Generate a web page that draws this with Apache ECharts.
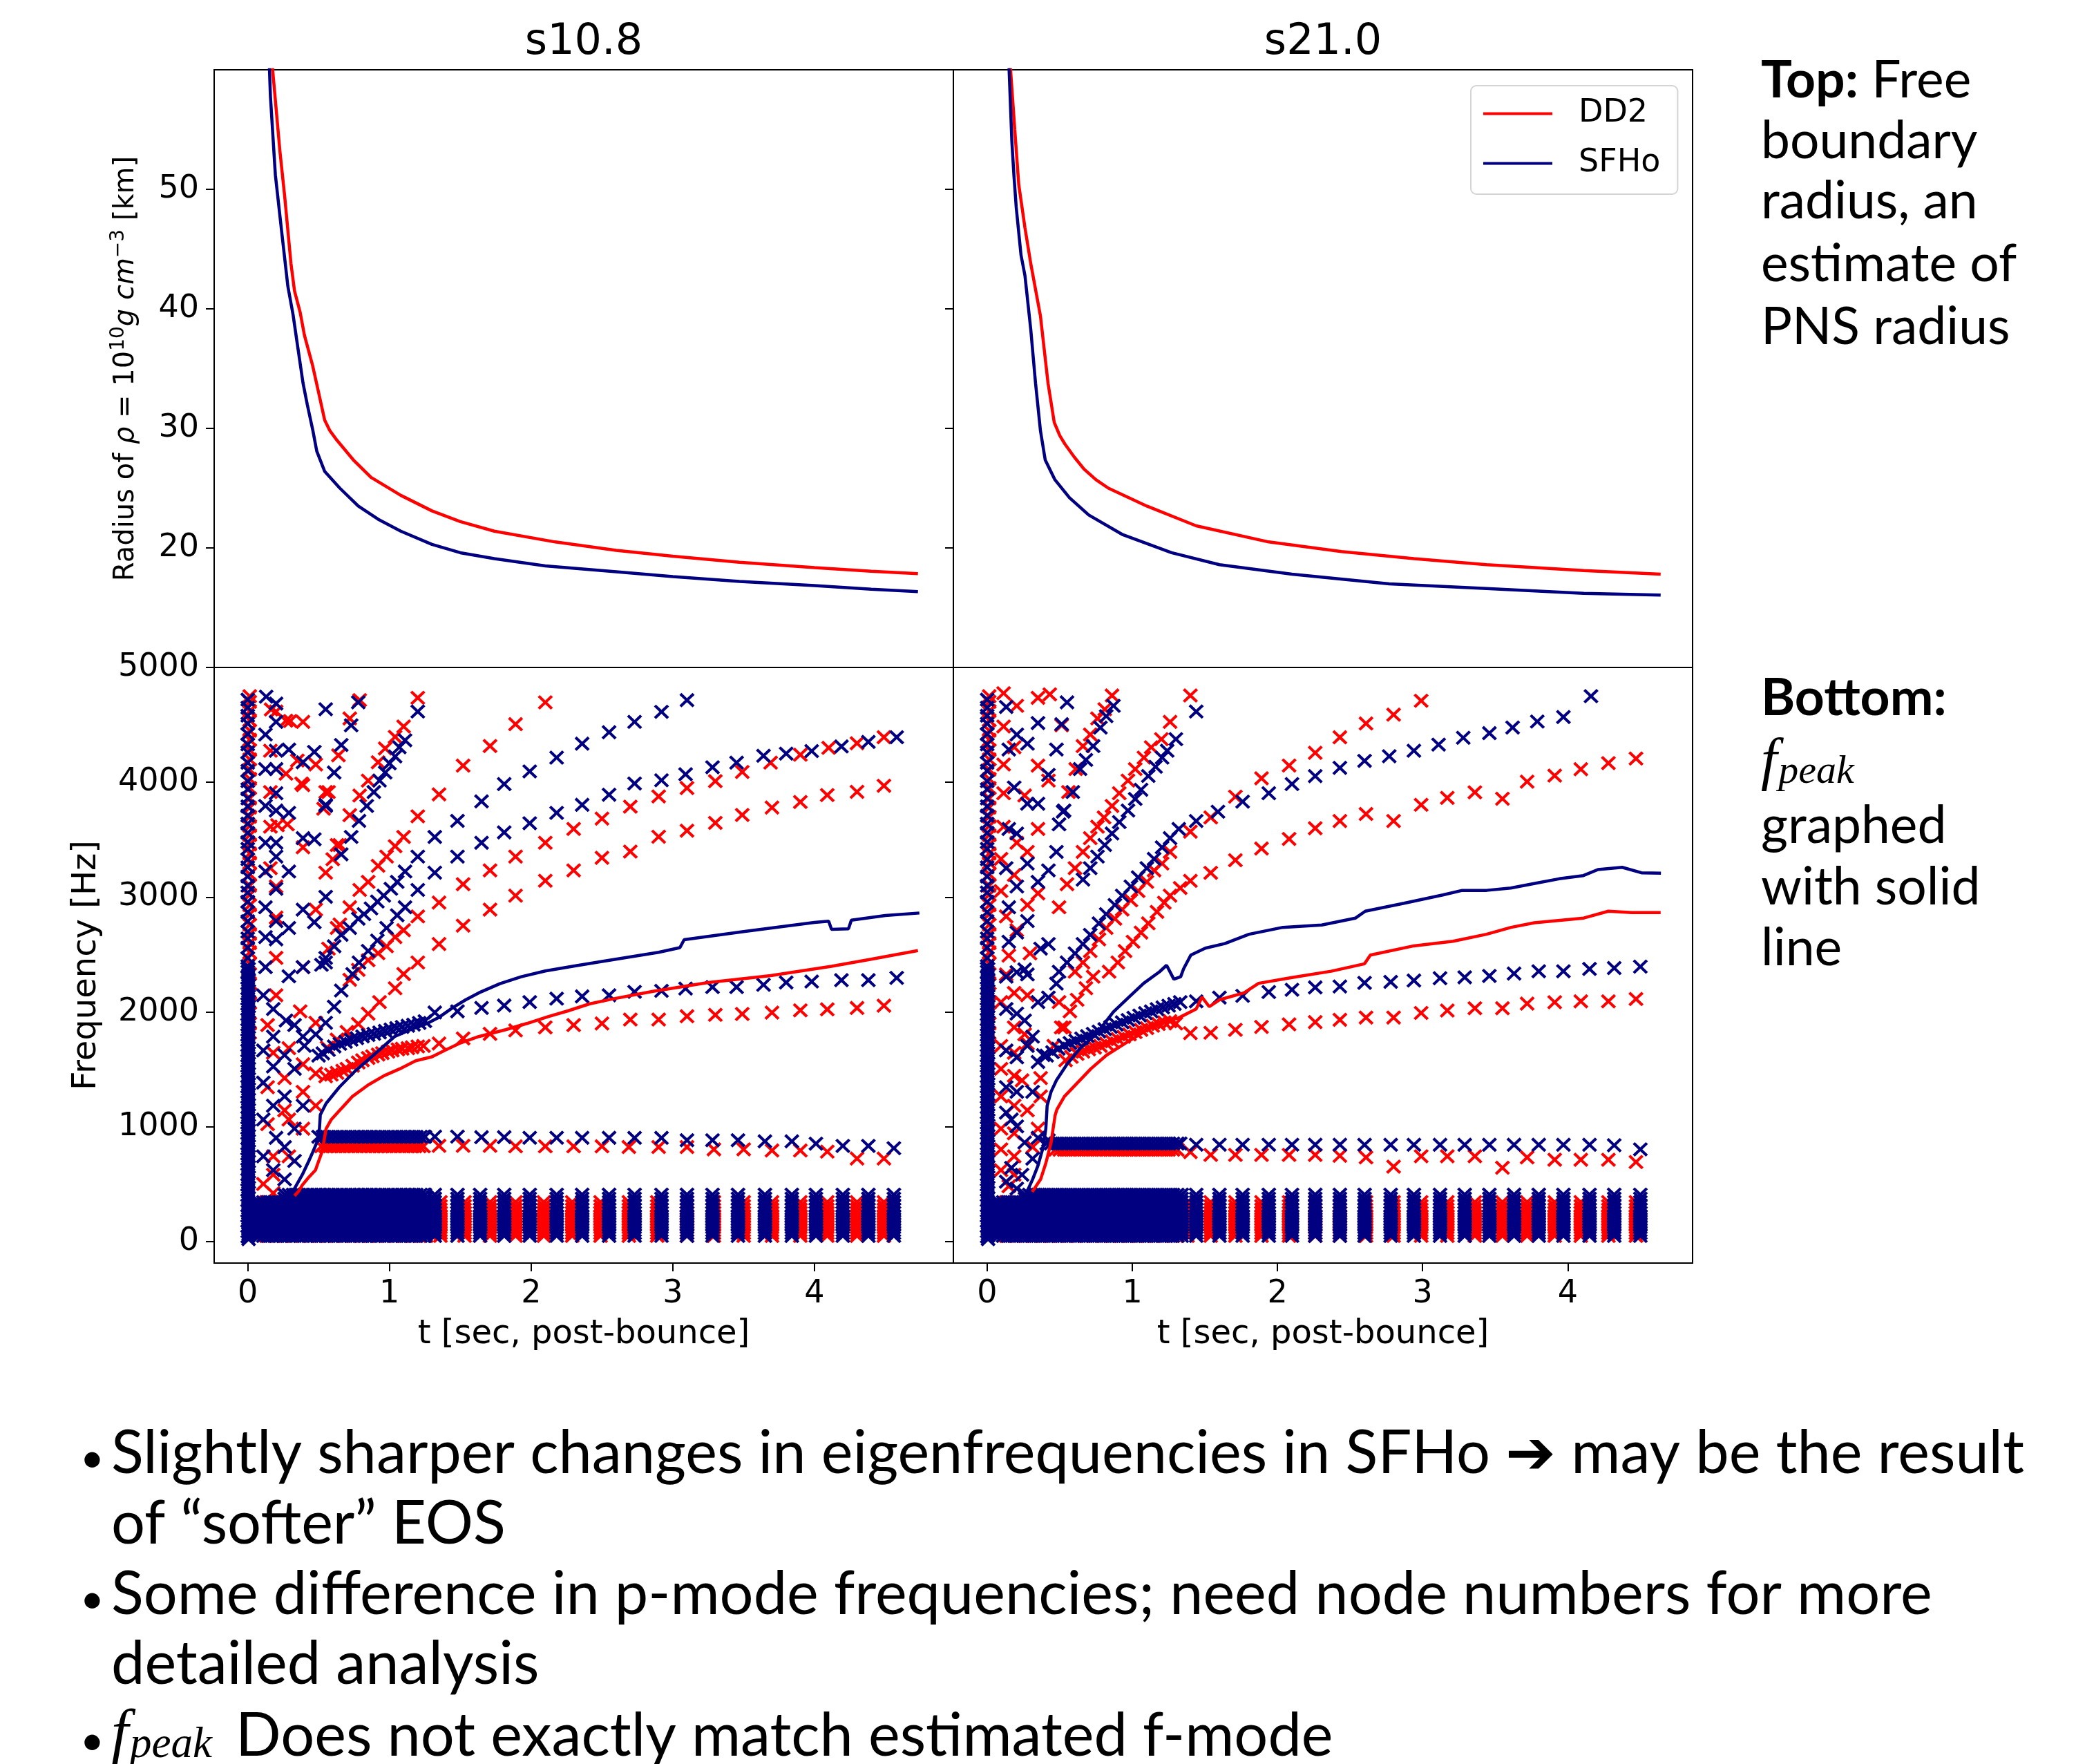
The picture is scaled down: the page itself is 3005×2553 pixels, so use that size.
<!DOCTYPE html>
<html><head><meta charset="utf-8">
<script src="https://cdn.jsdelivr.net/npm/echarts@6/dist/echarts.min.js"></script>
<style>html,body{margin:0;padding:0;background:#fff}#c{width:3005px;height:2553px}</style>
</head><body><div id="c"></div>
<script>
// ================= DATA =================
// Top panels: radius of rho = 1e10 g/cm^3 [t (s post-bounce), R (km)]
const radiusDD2_s108 = [[0.16,66],[0.175,60.1],[0.227,53.2],[0.26,49.5],[0.305,43.8],[0.33,41.5],[0.37,39.7],[0.40,37.8],[0.457,35.3],[0.50,33.0],[0.543,30.7],[0.58,29.8],[0.63,29.0],[0.75,27.3],[0.87,25.9],[1.08,24.4],[1.30,23.1],[1.50,22.2],[1.74,21.4],[2.17,20.5],[2.60,19.8],[3.00,19.3],[3.47,18.8],[4.00,18.35],[4.40,18.05],[4.73,17.85]];
const radiusSFHo_s108 = [[0.145,66],[0.153,60.1],[0.16,57.8],[0.195,51.2],[0.24,46.4],[0.283,41.9],[0.32,39.5],[0.348,37.2],[0.39,33.8],[0.42,32.0],[0.46,29.8],[0.487,28.1],[0.543,26.4],[0.65,25.0],[0.78,23.5],[0.92,22.4],[1.08,21.4],[1.30,20.3],[1.50,19.6],[1.74,19.1],[2.10,18.5],[2.60,18.0],[3.00,17.6],[3.47,17.2],[4.00,16.85],[4.40,16.55],[4.73,16.35]];
const radiusDD2_s210 = [[0.15,66],[0.161,60],[0.19,55],[0.2175,50.4],[0.26,46.8],[0.30,43.8],[0.367,39.4],[0.419,33.8],[0.462,30.5],[0.50,29.4],[0.535,28.7],[0.60,27.6],[0.667,26.6],[0.75,25.7],[0.835,25.0],[1.10,23.5],[1.44,21.85],[1.94,20.5],[2.44,19.7],[2.94,19.1],[3.44,18.6],[4.11,18.1],[4.64,17.8]];
const radiusSFHo_s210 = [[0.145,66],[0.151,60],[0.17,54],[0.184,51.2],[0.20,48.5],[0.233,44.5],[0.26,42.8],[0.30,38.3],[0.333,33.8],[0.367,29.8],[0.40,27.35],[0.467,25.7],[0.567,24.2],[0.70,22.75],[0.935,21.1],[1.27,19.6],[1.60,18.6],[2.10,17.8],[2.77,17.0],[3.44,16.6],[4.11,16.2],[4.64,16.05]];

// Bottom panels: f_peak solid lines [t, Hz]
const fpeakDD2_s108 = [[0.33,400],[0.36,440],[0.385,493],[0.43,560],[0.478,623],[0.50,700],[0.525,784],[0.553,984],[0.59,1064],[0.664,1164],[0.739,1265],[0.85,1365],[0.962,1445],[1.073,1505],[1.185,1575],[1.30,1610],[1.39,1665],[1.50,1730],[1.63,1786],[1.82,1846],[1.97,1900],[2.12,1960],[2.26,2010],[2.41,2070],[2.56,2110],[2.86,2180],[3.25,2257],[3.69,2317],[4.12,2398],[4.40,2460],[4.73,2535]];
const fpeakSFHo_s108 = [[0.25,380],[0.29,430],[0.33,463],[0.385,583],[0.43,700],[0.46,783],[0.488,864],[0.506,984],[0.512,1104],[0.553,1204],[0.646,1345],[0.757,1485],[0.888,1625],[1.036,1786],[1.148,1846],[1.259,1896],[1.353,1956],[1.445,2036],[1.538,2106],[1.631,2167],[1.78,2247],[1.93,2307],[2.10,2357],[2.30,2400],[2.50,2440],[2.90,2520],[3.05,2560],[3.08,2630],[3.50,2700],[4.00,2780],[4.10,2790],[4.12,2720],[4.24,2725],[4.26,2800],[4.50,2840],[4.74,2862]];
const fpeakDD2_s210 = [[0.31,433],[0.368,543],[0.404,683],[0.44,864],[0.468,1100],[0.48,1150],[0.532,1265],[0.623,1385],[0.714,1505],[0.823,1625],[0.95,1726],[1.078,1826],[1.187,1906],[1.315,1946],[1.44,2026],[1.48,2130],[1.53,2046],[1.60,2106],[1.77,2167],[1.87,2250],[2.10,2300],[2.37,2355],[2.60,2420],[2.64,2496],[2.94,2576],[3.21,2616],[3.44,2677],[3.61,2737],[3.77,2777],[4.11,2818],[4.28,2878],[4.44,2866],[4.64,2866]];
const fpeakSFHo_s210 = [[0.277,443],[0.313,543],[0.35,663],[0.386,824],[0.404,984],[0.413,1184],[0.44,1305],[0.477,1405],[0.55,1545],[0.641,1685],[0.75,1806],[0.869,2000],[0.969,2120],[1.078,2250],[1.187,2350],[1.236,2407],[1.286,2286],[1.333,2307],[1.353,2375],[1.403,2496],[1.503,2556],[1.637,2596],[1.804,2677],[2.037,2737],[2.305,2757],[2.538,2818],[2.605,2878],[2.872,2947],[3.139,3019],[3.273,3059],[3.44,3059],[3.607,3079],[3.774,3120],[3.941,3160],[4.108,3188],[4.208,3240],[4.375,3260],[4.508,3212],[4.642,3208]];

// Eigenfrequency tracks & scattered crosses [t, Hz]
const modesDD2_s108 = [
 [2.10,4696],[1.89,4506],[1.71,4316],[1.52,4145],[1.35,3895],[1.20,3704],[1.10,3524],[1.04,3444],[0.98,3353],[0.92,3273],[0.85,3133],[0.79,3063],[0.72,2912],[0.65,2762],[0.57,2552],
 [4.49,4393],[4.30,4340],[4.10,4300],[3.90,4240],[3.69,4171],[3.49,4090],[3.30,4010],[3.10,3950],[2.90,3877],[2.70,3788],[2.50,3684],[2.30,3594],[2.10,3474],[1.89,3353],[1.71,3233],[1.52,3113],[1.35,2953],[1.20,2832],[1.10,2712],[1.04,2652],[0.98,2572],[0.92,2512],[0.85,2451],[0.78,2367],[0.72,2280],
 [4.49,3970],[4.30,3917],[4.09,3889],[3.90,3829],[3.70,3780],[3.49,3716],[3.30,3647],[3.10,3579],[2.90,3526],[2.70,3397],[2.50,3343],[2.30,3233],[2.10,3143],[1.89,3013],[1.71,2892],[1.52,2752],[1.35,2592],[1.20,2431],[1.10,2331],[1.04,2207],[0.93,2086],[0.85,1986],[0.78,1896],[0.70,1826],[0.63,1760],[0.56,1690],
 [4.49,2055],[4.30,2035],[4.09,2023],[3.90,2015],[3.70,1995],[3.49,1983],[3.30,1975],[3.10,1963],[2.90,1934],[2.70,1934],[2.50,1900],[2.30,1886],[2.10,1866],[1.89,1840],[1.71,1810],[1.52,1770],[1.35,1726],[1.24,1705],[1.20,1700],[1.16,1692],[1.13,1685],[1.09,1680],[1.06,1675],[1.02,1665],[0.99,1655],[0.95,1642],[0.92,1630],[0.88,1615],[0.85,1600],[0.81,1580],[0.78,1560],[0.74,1532],[0.70,1505],[0.67,1488],[0.63,1470],[0.59,1455],[0.55,1440],
 [1.35,835],[1.52,835],[1.71,835],[1.89,830],[2.10,830],[2.30,830],[2.50,830],[2.69,824],[2.90,824],[3.10,824],[3.29,804],[3.50,804],[3.70,794],[3.90,794],[4.09,784],[4.30,724],[4.49,724],
 [1.20,4736],[1.10,4486],[1.04,4396],[0.97,4295],[0.92,4175],[0.85,4015],[0.79,3885],[0.72,3714],[0.65,3454],[0.60,3330],
 [0.79,4716],[0.72,4556],[0.64,4235],[0.57,3915],[0.535,3770],
 [0.20,4616],[0.27,4536],[0.39,4526],[0.16,4275],[0.48,4155],[0.27,4075],[0.39,3975],[0.55,3915],[0.16,3915],[0.28,3634],[0.16,3614],[0.39,3434],[0.63,3454],[0.55,3213],[0.16,3253],[0.20,3093],[0.48,2892],[0.20,2822],[0.63,2732],[0.20,2471],[0.39,2391],[0.165,4634],[0.30,4534],[0.35,4190],[0.38,3990],[0.21,3627],
 [0.20,2146],[0.37,2006],[0.48,1906],[0.14,1886],[0.18,1645],[0.29,1685],[0.48,1465],[0.39,1545],[0.26,1425],[0.14,1345],[0.39,1305],[0.48,1184],[0.26,1144],[0.14,1024],[0.29,1064],[0.39,984],[0.18,743],[0.29,743],[0.18,583],[0.18,423],[0.11,503]
];
const modesSFHo_s108 = [
 [3.10,4715],[2.92,4614],[2.73,4526],[2.55,4436],[2.36,4336],[2.18,4215],[1.99,4095],[1.81,3985],[1.65,3834],[1.48,3664],[1.32,3524],[1.20,3353],[1.11,3223],[1.055,3133],[1.01,3073],[0.96,3013],[0.915,2962],[0.87,2902],[0.82,2852],[0.78,2812],[0.72,2732],[0.66,2672],[0.61,2572],[0.55,2471],[0.52,2411],
 [4.58,4393],[4.38,4352],[4.19,4312],[3.98,4272],[3.80,4250],[3.64,4231],[3.45,4171],[3.28,4131],[3.09,4070],[2.92,4018],[2.73,3990],[2.55,3892],[2.36,3804],[2.18,3734],[1.99,3644],[1.81,3564],[1.65,3474],[1.48,3353],[1.32,3213],[1.20,3063],[1.11,2912],[1.055,2842],[0.98,2732],[0.915,2622],[0.85,2532],[0.785,2431],[0.74,2331],[0.66,2187],[0.61,2046],[0.55,1906],[0.48,1806],[0.40,1705],
 [4.58,2297],[4.38,2277],[4.19,2277],[3.98,2265],[3.80,2257],[3.64,2237],[3.45,2217],[3.28,2217],[3.09,2204],[2.92,2184],[2.73,2176],[2.55,2146],[2.36,2136],[2.18,2116],[1.99,2086],[1.81,2056],[1.65,2036],[1.48,2006],[1.32,1996],[1.25,1920],[1.21,1905],[1.17,1890],[1.13,1880],[1.09,1870],[1.05,1860],[1.01,1848],[0.97,1835],[0.93,1822],[0.89,1810],[0.85,1800],[0.81,1788],[0.77,1772],[0.73,1758],[0.69,1740],[0.65,1722],[0.61,1700],[0.57,1670],[0.53,1640],[0.50,1620],
 [1.32,915],[1.48,915],[1.65,910],[1.81,910],[1.99,905],[2.18,905],[2.36,905],[2.55,905],[2.73,904],[2.92,904],[3.10,884],[3.28,884],[3.46,884],[3.65,874],[3.84,874],[4.01,854],[4.20,834],[4.38,834],[4.56,814],
 [1.20,4616],[1.11,4366],[1.07,4305],[1.04,4225],[1.00,4165],[0.97,4085],[0.93,4015],[0.89,3915],[0.84,3794],[0.785,3664],[0.73,3524],[0.66,3373],
 [0.78,4696],[0.73,4496],[0.66,4325],[0.61,4085],[0.55,3794],
 [0.13,4746],[0.20,4686],[0.125,4416],[0.20,4526],[0.20,4275],[0.29,4285],[0.39,4175],[0.47,4265],[0.55,4636],[0.55,3804],[0.20,4115],[0.125,4115],[0.20,3905],[0.125,3794],[0.20,3754],[0.29,3734],[0.20,3474],[0.125,3474],[0.39,3514],[0.47,3504],[0.20,3353],[0.29,3223],[0.125,3223],[0.20,3073],[0.55,3003],[0.125,2912],[0.39,2892],[0.47,2782],[0.20,2792],[0.29,2732],[0.125,2652],[0.20,2632],[0.55,2431],[0.39,2391],[0.125,2391],[0.29,2311],
 [0.11,2146],[0.18,2026],[0.27,1926],[0.18,1786],[0.11,1665],[0.33,1886],[0.39,1786],[0.26,1625],[0.18,1525],[0.33,1505],[0.11,1385],[0.26,1265],[0.39,1184],[0.18,1184],[0.11,1064],[0.33,984],[0.20,904],[0.26,824],[0.11,743],[0.33,703],[0.18,623],[0.26,543]
];
const modesDD2_s210 = [
 [2.99,4710],[2.80,4589],[2.61,4512],[2.43,4392],[2.26,4257],[2.08,4146],[1.89,4035],[1.71,3875],[1.54,3694],[1.40,3570],[1.26,3394],[1.205,3293],[1.15,3233],[1.10,3133],[1.04,3053],[0.99,2972],[0.93,2892],[0.88,2812],[0.82,2732],[0.77,2632],[0.71,2531],[0.66,2431],[0.605,2351],
 [4.47,4207],[4.28,4167],[4.09,4114],[3.91,4058],[3.72,4006],[3.55,3857],[3.36,3913],[3.17,3865],[2.99,3804],[2.80,3663],[2.61,3724],[2.43,3663],[2.26,3600],[2.08,3507],[1.89,3423],[1.71,3322],[1.54,3212],[1.40,3142],[1.33,3080],[1.26,3013],[1.22,2952],[1.17,2872],[1.11,2772],[1.06,2692],[1.005,2612],[0.95,2531],[0.90,2431],[0.84,2351],[0.73,2307],[0.68,2207],[0.62,2106],[0.57,2006],[0.51,1866],
 [4.47,2113],[4.28,2093],[4.09,2093],[3.91,2085],[3.72,2073],[3.55,2033],[3.36,2033],[3.17,2013],[2.99,1992],[2.80,1952],[2.61,1952],[2.43,1932],[2.26,1912],[2.08,1892],[1.89,1870],[1.71,1845],[1.54,1819],[1.40,1816],[1.30,1900],[1.26,1920],[1.22,1910],[1.18,1895],[1.14,1880],[1.10,1860],[1.06,1845],[1.02,1825],[0.98,1805],[0.94,1785],[0.90,1765],[0.86,1745],[0.82,1725],[0.78,1705],[0.74,1690],[0.70,1675],[0.66,1655],[0.62,1635],[0.58,1610],[0.54,1580],
 [1.40,780],[1.54,756],[1.71,756],[1.89,756],[2.08,756],[2.26,756],[2.43,748],[2.61,734],[2.80,654],[2.99,744],[3.17,744],[3.36,744],[3.55,644],[3.72,734],[3.91,714],[4.09,714],[4.28,714],[4.47,694],
 [1.40,4756],[1.26,4526],[1.20,4376],[1.13,4305],[1.08,4215],[1.02,4115],[0.97,4015],[0.91,3905],[0.86,3794],[0.805,3694],[0.76,3614],[0.71,3514],[0.66,3394],[0.605,3253],[0.55,3113],[0.495,2912],
 [0.86,4756],[0.81,4636],[0.76,4556],[0.71,4416],[0.66,4315],[0.61,4115],[0.56,3915],
 [0.113,4776],[0.35,4736],[0.431,4766],[0.204,4666],[0.113,4486],[0.513,4496],[0.186,4305],[0.113,4155],[0.35,4145],[0.422,4015],[0.113,3905],[0.258,3885],[0.35,3594],[0.113,3614],[0.204,3474],[0.277,3394],[0.095,3333],[0.186,3193],[0.095,3053],[0.35,3033],[0.277,2932],[0.131,2832],[0.204,2712],[0.295,2511],[0.149,2491],
 [0.131,2327],[0.186,2166],[0.277,2146],[0.095,2086],[0.186,1866],[0.258,1806],[0.095,1705],[0.186,1645],[0.277,1725],[0.095,1505],[0.186,1445],[0.24,1405],[0.368,1425],[0.095,1265],[0.186,1184],[0.277,1144],[0.095,984],[0.186,944],[0.35,984],[0.095,804],[0.186,743],[0.313,824],[0.095,623],[0.186,583],[0.149,483],[0.495,2086],[0.532,1866],[0.459,1705],[0.368,1265]
];
const modesSFHo_s210 = [
 [4.16,4750],[3.97,4569],[3.79,4529],[3.62,4477],[3.46,4428],[3.28,4388],[3.11,4328],[2.94,4275],[2.77,4227],[2.60,4187],[2.43,4126],[2.26,4054],[2.10,3985],[1.94,3905],[1.76,3832],[1.59,3744],[1.44,3663],[1.32,3594],[1.26,3514],[1.205,3434],[1.15,3333],[1.10,3253],[1.04,3173],[0.99,3093],[0.93,3013],[0.88,2932],[0.82,2852],[0.77,2772],[0.71,2672],[0.66,2592],[0.605,2511],[0.55,2431],[0.495,2351],
 [4.50,2395],[4.32,2383],[4.15,2375],[3.97,2355],[3.80,2355],[3.63,2335],[3.46,2314],[3.29,2302],[3.12,2294],[2.94,2274],[2.78,2262],[2.60,2254],[2.43,2222],[2.26,2214],[2.10,2194],[1.94,2174],[1.76,2141],[1.60,2125],[1.44,2093],[1.33,2086],[1.29,2070],[1.25,2055],[1.21,2040],[1.17,2025],[1.13,2005],[1.09,1990],[1.05,1970],[1.01,1950],[0.97,1930],[0.93,1910],[0.89,1890],[0.85,1870],[0.81,1850],[0.77,1830],[0.73,1810],[0.69,1790],[0.65,1770],[0.61,1750],[0.57,1730],[0.53,1710],[0.49,1680],[0.45,1650],[0.41,1620],
 [1.44,845],[1.60,845],[1.76,845],[1.94,845],[2.10,845],[2.26,845],[2.43,845],[2.60,844],[2.78,844],[2.94,844],[3.12,844],[3.29,844],[3.46,844],[3.63,844],[3.80,844],[3.97,844],[4.15,844],[4.32,840],[4.50,804],
 [1.44,4616],[1.30,4376],[1.24,4275],[1.205,4215],[1.16,4135],[1.11,4055],[1.06,3935],[1.02,3855],[0.97,3754],[0.91,3654],[0.86,3554],[0.81,3454],[0.76,3353],[0.71,3253],[0.66,3153],
 [0.87,4666],[0.82,4576],[0.78,4476],[0.73,4315],[0.68,4195],[0.64,4115],[0.59,3915],[0.53,3754],[0.495,3634],
 [0.131,4656],[0.204,4416],[0.149,4285],[0.277,4336],[0.35,4516],[0.477,4285],[0.55,4696],[0.513,4506],[0.422,4065],[0.186,3955],[0.277,3814],[0.35,3814],[0.523,3744],[0.149,3594],[0.204,3554],[0.477,3394],[0.277,3293],[0.131,3253],[0.422,3233],[0.35,3133],[0.204,3093],[0.149,2912],[0.277,2792],[0.204,2692],[0.149,2612],[0.368,2552],[0.422,2592],[0.258,2371],
 [0.131,2307],[0.204,2347],[0.277,2327],[0.35,2086],[0.422,2126],[0.477,2247],[0.131,2026],[0.204,1986],[0.258,1926],[0.313,1786],[0.386,1625],[0.35,1565],[0.131,1665],[0.204,1605],[0.277,1705],[0.131,1345],[0.204,1305],[0.313,1305],[0.167,1064],[0.131,1124],[0.204,1004],[0.258,864],[0.35,904],[0.422,884],[0.167,643],[0.24,583],[0.313,723],[0.131,523],[0.204,463]
];

// dense f-mode rows: snapshot times and frequency
const fmodeTimesDD2_s108 = [0.52,0.55,0.58,0.61,0.64,0.67,0.70,0.73,0.76,0.79,0.82,0.85,0.88,0.91,0.94,0.97,1.00,1.03,1.06,1.09,1.12,1.15,1.18,1.21,1.24];
const fmodeFreqDD2_s108 = [830];
const fmodeTimesSFHo_s108 = [0.50,0.53,0.56,0.59,0.62,0.65,0.68,0.71,0.74,0.77,0.80,0.83,0.86,0.89,0.92,0.95,0.98,1.01,1.04,1.07,1.10,1.13,1.16,1.19,1.22,1.25];
const fmodeFreqSFHo_s108 = [914];
const fmodeTimesDD2_s210 = [0.47,0.50,0.53,0.56,0.59,0.62,0.65,0.68,0.71,0.74,0.77,0.80,0.83,0.86,0.89,0.92,0.95,0.98,1.01,1.04,1.07,1.10,1.13,1.16,1.19,1.22,1.25,1.28,1.31];
const fmodeFreqDD2_s210 = [800];
const fmodeTimesSFHo_s210 = [0.41,0.44,0.47,0.50,0.53,0.56,0.59,0.62,0.65,0.68,0.71,0.74,0.77,0.80,0.83,0.86,0.89,0.92,0.95,0.98,1.01,1.04,1.07,1.10,1.13,1.16,1.19,1.22,1.25,1.28,1.31,1.33];
const fmodeFreqSFHo_s210 = [855];

// low-frequency stacks (0-450 Hz) of crosses at each snapshot
const lowBandSFHo = [50,75,100,125,150,175,200,225,250,280,310,345,375,410];
const lowBandDD2 = [50,75,100,125,150,175,200,225,250,280,310,345];
const lowBandEarly = [50,80,110,140,170,200,230,260,290,320,345];
const earlyShortSFHo_s108 = [0.08,0.11,0.14,0.17,0.20,0.23];
const earlySFHo_s108 = [0.26,0.29,0.32,0.35,0.38,0.41,0.44,0.47,0.50,0.53,0.56,0.59,0.62,0.65,0.68,0.71,0.74,0.77,0.80,0.83,0.86,0.89,0.92,0.95,0.98,1.01,1.04,1.07,1.10,1.13,1.16,1.19,1.22,1.25];
const earlyShortDD2_s108 = [0.07,0.13,0.19];
const earlyDD2_s108 = [0.25,0.31,0.37,0.43,0.49,0.55,0.61,0.67,0.73,0.79,0.85,0.91,0.97,1.03,1.09,1.15,1.21,1.26];
const lateSFHo_s108 = [1.32,1.48,1.64,1.81,1.99,2.18,2.36,2.55,2.73,2.92,3.10,3.28,3.46,3.65,3.84,4.01,4.20,4.38,4.56];
const lateDD2_s108 = [1.36,1.53,1.71,1.89,2.09,2.29,2.49,2.69,2.89,3.10,3.29,3.50,3.70,3.90,4.09,4.30,4.49];
const earlyShortSFHo_s210 = [0.08,0.11,0.14,0.17,0.20,0.23];
const earlySFHo_s210 = [0.26,0.29,0.32,0.35,0.38,0.41,0.44,0.47,0.50,0.53,0.56,0.59,0.62,0.65,0.68,0.71,0.74,0.77,0.80,0.83,0.86,0.89,0.92,0.95,0.98,1.01,1.04,1.07,1.10,1.13,1.16,1.19,1.22,1.25,1.28,1.31,1.34];
const earlyShortDD2_s210 = [0.07,0.13,0.19];
const earlyDD2_s210 = [0.25,0.31,0.37,0.43,0.49,0.55,0.61,0.67,0.73,0.79,0.85,0.91,0.97,1.03,1.09,1.15,1.21,1.27,1.31];
const lateSFHo_s210 = [1.44,1.60,1.76,1.94,2.10,2.26,2.43,2.60,2.78,2.94,3.12,3.29,3.46,3.63,3.80,3.97,4.15,4.32,4.50];
const lateDD2_s210 = [1.38,1.54,1.71,1.89,2.08,2.26,2.43,2.61,2.80,2.99,3.17,3.36,3.55,3.72,3.91,4.09,4.28,4.47];

// crosses stacked at t ~ 0
const zeroColSFHo = [45,90,135,180,225,270,315,360,405,450,495,540,585,630,675,720,765,810,855,900,945,990,1035,1080,1125,1170,1215,1260,1305,1350,1395,1440,1485,1530,1575,1620,1665,1710,1755,1800,1845,1890,1935,1980,2025,2070,2115,2160,2205,2250,2300,2350,2400,2470,2560,2640,2700,2790,2870,2960,3040,3100,3180,3260,3330,3420,3480,3560,3640,3710,3790,3860,3940,4010,4100,4170,4260,4330,4420,4510,4580,4650,4720];
const zeroColSFHoFill = [22,68,112,158,202,248,292,338,382,428,472,518,562,608,652,698,742,788,832,878,922,968,1012,1058,1102,1148,1192,1238,1282,1328,1372,1418,1462,1508,1552,1598,1642,1688,1732,1778,1822,1868,1912,1958,2002,2048,2092,2138,2182,2228,2275,2325,2375];
const zeroColDD2 = [1820,1900,1990,2080,2160,2250,2330,2420,2520,2600,2680,2760,2850,2930,3020,3100,3200,3300,3380,3460,3540,3620,3700,3780,3860,3950,4030,4110,4200,4280,4370,4450,4540,4620,4700,4750];
const zeroTimeSFHo = [0.0];
const zeroTimeSFHoFill = [0.006];
const zeroTimeDD2 = [0.014];

// tick labels
const radiusTicks = [20,30,40,50];
const freqTicks = [0,1000,2000,3000,4000,5000];
const timeTicks = [0,1,2,3,4];

// ================= BUILD =================
function stack(times, freqs){const o=[];for(const t of times)for(const f of freqs)o.push([t,f]);return o;}
const scatDD2_s108 = [].concat(stack(zeroTimeDD2, zeroColDD2), stack(earlyShortDD2_s108, lowBandEarly), stack(earlyDD2_s108, lowBandDD2), stack(lateDD2_s108, lowBandDD2), stack(fmodeTimesDD2_s108, fmodeFreqDD2_s108), modesDD2_s108);
const scatSFHo_s108 = [].concat(stack(zeroTimeSFHo, zeroColSFHo), stack(zeroTimeSFHoFill, zeroColSFHoFill), stack(earlyShortSFHo_s108, lowBandEarly), stack(earlySFHo_s108, lowBandSFHo), stack(lateSFHo_s108, lowBandSFHo), stack(fmodeTimesSFHo_s108, fmodeFreqSFHo_s108), modesSFHo_s108);
const scatDD2_s210 = [].concat(stack(zeroTimeDD2, zeroColDD2), stack(earlyShortDD2_s210, lowBandEarly), stack(earlyDD2_s210, lowBandDD2), stack(lateDD2_s210, lowBandDD2), stack(fmodeTimesDD2_s210, fmodeFreqDD2_s210), modesDD2_s210);
const scatSFHo_s210 = [].concat(stack(zeroTimeSFHo, zeroColSFHo), stack(zeroTimeSFHoFill, zeroColSFHoFill), stack(earlyShortSFHo_s210, lowBandEarly), stack(earlySFHo_s210, lowBandSFHo), stack(lateSFHo_s210, lowBandSFHo), stack(fmodeTimesSFHo_s210, fmodeFreqSFHo_s210), modesSFHo_s210);

const RED = '#ff0000', NAVY = '#000080';
const SANS = '"DejaVu Sans", sans-serif';
const XMARK = 'path://M0,1.35L1.35,0L5,3.65L8.65,0L10,1.35L6.35,5L10,8.65L8.65,10L5,6.35L1.35,10L0,8.65L3.65,5Z';

const grids = [
  {left:310, top:101, width:1070, height:865},
  {left:1380, top:101, width:1070, height:865},
  {left:310, top:966, width:1070, height:862},
  {left:1380, top:966, width:1070, height:862}
].map(g => Object.assign({show:true, borderColor:'#000', borderWidth:2, backgroundColor:'transparent', containLabel:false, outerBoundsMode:'none'}, g));

const tickStyle = {show:true, inside:false, length:12, lineStyle:{color:'#000', width:2}};
function xAx(gi, min, max, labels){
  return {type:'value', gridIndex:gi, min, max, minInterval:1, maxInterval:1, position:'bottom',
    axisLine:{show:false, onZero:false}, splitLine:{show:false},
    axisTick: labels ? tickStyle : {show:false},
    axisLabel:{show:labels, margin:22, color:'#000', fontFamily:SANS, fontSize:46, showMinLabel:false, showMaxLabel:false,
      formatter: v => timeTicks.includes(v) ? String(v) : ''},
    name: labels ? 't [sec, post-bounce]' : '', nameLocation:'middle', nameGap:80,
    nameTextStyle:{color:'#000', fontFamily:SANS, fontSize:48}};
}
function yAxRadius(gi, labels){
  return {type:'value', gridIndex:gi, min:10, max:60, minInterval:10, maxInterval:10, position:'left',
    axisLine:{show:false, onZero:false}, splitLine:{show:false}, axisTick:tickStyle,
    axisLabel:{show:labels, margin:22, color:'#000', fontFamily:SANS, fontSize:46, showMinLabel:false, showMaxLabel:false,
      formatter: v => radiusTicks.includes(v) ? String(v) : ''},
    name: labels ? '{n|Radius of }{i|ρ}{n| = 10}{s|10}{i|g cm}{s|−3}{n| [km]}' : '',
    nameLocation:'middle', nameGap:102, nameRotate:90,
    nameTextStyle:{color:'#000', fontFamily:SANS, fontSize:40, rich:{
      n:{fontFamily:SANS, fontSize:40, color:'#000', lineHeight:50},
      i:{fontFamily:SANS, fontSize:40, fontStyle:'italic', color:'#000', lineHeight:50},
      s:{fontFamily:SANS, fontSize:28, color:'#000', lineHeight:26, verticalAlign:'top'}}}};
}
function yAxFreq(gi, labels){
  return {type:'value', gridIndex:gi, min:-186, max:5000, minInterval:1000, maxInterval:1000, position:'left',
    axisLine:{show:false, onZero:false}, splitLine:{show:false}, axisTick:tickStyle,
    axisLabel:{show:labels, margin:22, color:'#000', fontFamily:SANS, fontSize:46, showMinLabel:false,
      formatter: v => freqTicks.includes(v) ? String(v) : ''},
    name: labels ? 'Frequency [Hz]' : '', nameLocation:'middle', nameGap:160, nameRotate:90,
    nameTextStyle:{color:'#000', fontFamily:SANS, fontSize:48}};
}

function lineS(name, data, color, gi, z){
  return {type:'line', name, data, xAxisIndex:gi, yAxisIndex:gi, showSymbol:false, symbol:'none',
    lineStyle:{color, width:4.5}, itemStyle:{color}, z, clip:true, animation:false};
}
function scatS(name, data, color, gi, z){
  return {type:'scatter', name, data, xAxisIndex:gi, yAxisIndex:gi, symbol:XMARK, symbolSize:[22,21],
    itemStyle:{color, opacity:1}, z, clip:true, animation:false, silent:true, large:false};
}

// side & bottom texts
const LATO = 'Lato, "Open Sans", sans-serif';
const SERIF = '"Liberation Serif", "DejaVu Serif", serif';
const sideRich = {
  b:{fontFamily:LATO, fontSize:75, fontWeight:'bold', fill:'#000'},
  f:{fontFamily:SERIF, fontStyle:'italic', fontSize:84, fill:'#000', lineHeight:84},
  s:{fontFamily:SERIF, fontStyle:'italic', fontSize:58, fill:'#000', lineHeight:58, verticalAlign:'bottom', padding:[0,0,0,2]}
};
const sideLines = [['{b|Top:} Free',117],['boundary',205],['radius, an',292],['estimate of',383],['PNS radius',474],['{b|Bottom:}',1011],['{f|f}{s|peak}',1105],['graphed',1196],['with solid',1285],['line',1373]];
const bullets = [['Slightly sharper changes in eigenfrequencies in SFHo ➔ may be the result',2104,true],['of “softer” EOS',2206,false],['Some difference in p-mode frequencies; need node numbers for more',2308,true],['detailed analysis',2409,false],['{f|f}{s|peak} Does not exactly match estimated f-mode',2513,true]];
const botRich = {
  f:{fontFamily:SERIF, fontStyle:'italic', fontSize:90, fill:'#000', lineHeight:90},
  s:{fontFamily:SERIF, fontStyle:'italic', fontSize:63, fill:'#000', lineHeight:63, verticalAlign:'bottom', padding:[0,12,0,2]}
};
const graphics = [
  {type:'text', x:845, y:62, style:{text:'s10.8', fill:'#000', fontFamily:SANS, fontSize:62, align:'center', verticalAlign:'middle'}},
  {type:'text', x:1915, y:62, style:{text:'s21.0', fill:'#000', fontFamily:SANS, fontSize:62, align:'center', verticalAlign:'middle'}}
];
sideLines.forEach(([t,y]) => graphics.push({type:'text', x:2549, y, style:{text:t, fill:'#000', fontFamily:LATO, fontSize:75, verticalAlign:'middle', rich:sideRich}}));
bullets.forEach(([t,y,b]) => {
  graphics.push({type:'text', x:161, y, style:{text:t, fill:'#000', fontFamily:LATO, fontSize:86.5, verticalAlign:'middle', rich:botRich}});
  if (b) graphics.push({type:'text', x:116, y:y+8, style:{text:'•', fill:'#000', fontFamily:LATO, fontSize:60, verticalAlign:'middle'}});
});

const option = {
  animation:false,
  backgroundColor:'#fff',
  textStyle:{fontFamily:SANS},
  grid: grids,
  xAxis:[xAx(0,-0.237,4.98,false), xAx(1,-0.233,4.86,false), xAx(2,-0.237,4.98,true), xAx(3,-0.233,4.86,true)],
  yAxis:[yAxRadius(0,true), yAxRadius(1,false), yAxFreq(2,true), yAxFreq(3,false)],
  legend:{show:true, orient:'vertical', left:2129, top:124, selectedMode:false,
    data:[{name:'DD2', icon:'rect'},{name:'SFHo', icon:'rect'}],
    itemWidth:100, itemHeight:4, itemGap:17,
    backgroundColor:'#fff', borderColor:'#d4d4d4', borderWidth:2, borderRadius:8, padding:[13,25,17,18],
    textStyle:{fontFamily:SANS, fontSize:46, color:'#000', lineHeight:55, padding:[0,0,0,33]}},
  series:[
    lineS('DD2', radiusDD2_s108, RED, 0, 4), lineS('SFHo', radiusSFHo_s108, NAVY, 0, 5),
    lineS('DD2', radiusDD2_s210, RED, 1, 4), lineS('SFHo', radiusSFHo_s210, NAVY, 1, 5),
    scatS('DD2 modes', scatDD2_s108, RED, 2, 2), scatS('SFHo modes', scatSFHo_s108, NAVY, 2, 3),
    lineS('DD2', fpeakDD2_s108, RED, 2, 4), lineS('SFHo', fpeakSFHo_s108, NAVY, 2, 5),
    scatS('DD2 modes', scatDD2_s210, RED, 3, 2), scatS('SFHo modes', scatSFHo_s210, NAVY, 3, 3),
    lineS('DD2', fpeakDD2_s210, RED, 3, 4), lineS('SFHo', fpeakSFHo_s210, NAVY, 3, 5)
  ],
  graphic: graphics
};
const chart = echarts.init(document.getElementById('c'), null, {renderer:'canvas', width:3005, height:2553});
chart.setOption(option);
</script></body></html>
